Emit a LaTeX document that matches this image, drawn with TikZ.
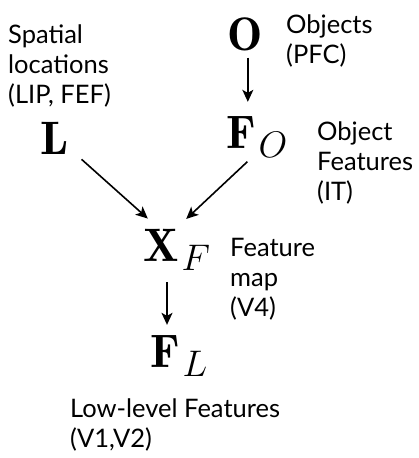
\RequirePackage{fix-cm}
\documentclass[tikz,border=0pt]{standalone}
\usepackage{amsmath}
\usepackage{fontspec}
\newfontfamily\labelfont{Lato}
\usetikzlibrary{arrows.meta}
\DeclareMathSizes{47}{47}{37}{28}

\begin{document}
\begin{tikzpicture}[x=1pt, y=-1pt,
    var/.style={inner sep=0pt, anchor=base west, font=\fontsize{47}{54}\selectfont},
    lbl/.style={inner sep=0pt, anchor=base west, align=left, font=\labelfont\fontsize{25.5}{30}\selectfont},
    arr/.style={-{Stealth[length=12pt,width=11pt,inset=3pt]}, line width=1.6pt}]
    \useasboundingbox (0,0) rectangle (418,458);

    % ===== Variables =====
    \node[var] (O)  at (227,50)  {$\mathbf{O}$};
    \node[var] (L)  at (40,154)  {$\mathbf{L}$};
    \node[var] (FO) at (226,148) {$\mathbf{F}_{\kern3pt O}$};
    \node[var] (XF) at (143,261) {$\mathbf{X}_{\kern3pt F}$};
    \node[var] (FL) at (150,367) {$\mathbf{F}_{\kern3pt L}$};

    % ===== Labels (base = last line) =====
    \node[lbl] (spatial)  at (8,103)   {Spatial\\locations\\(LIP, FEF)};
    \node[lbl] (objects)  at (286,63)  {Objects\\(PFC)};
    \node[lbl] (objfeat)  at (317,200) {Object\\Features\\(IT)};
    \node[lbl] (featmap)  at (230,316) {Feature\\map\\(V4)};
    \node[lbl] (lowlevel) at (70,447)  {Low-level Features\\(V1,V2)};

    % ===== Connectors =====
    \coordinate (ostem)  at ([xshift=3pt]O.south);
    \coordinate (xfstem) at ([xshift=24pt]XF.base west);
    \draw[arr, shorten <=7pt, shorten >=14pt] (ostem) -- (ostem |- FO.north);
    \draw[arr, shorten <=8pt, shorten >=15pt] ([xshift=7pt]L.base east) -- ([xshift=16pt]XF.north west);
    \draw[arr, shorten <=20pt, shorten >=14pt] ([xshift=36pt]FO.base west) -- ([xshift=33pt]XF.north west);
    \draw[arr, shorten <=21pt, shorten >=10pt] (xfstem) -- (xfstem |- FL.north);
\end{tikzpicture}
\end{document}
